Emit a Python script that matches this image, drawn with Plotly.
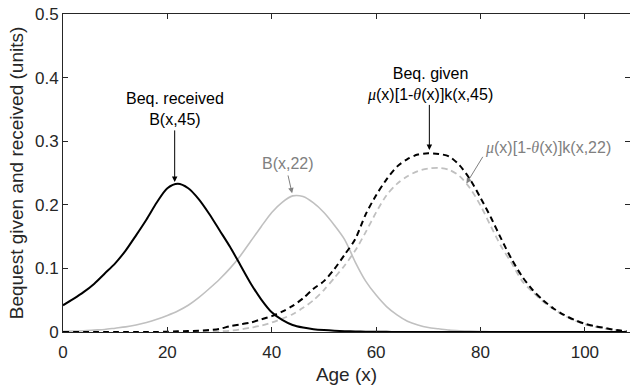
import plotly.graph_objects as go

# Age grid (years)
age = list(range(0, 110, 2))

# Bequests received at age x by a cohort aged 45: B(x,45)
b_received_45 = [0.042, 0.052, 0.063, 0.076, 0.092, 0.108, 0.128, 0.152, 0.177, 0.204,
                 0.226, 0.233, 0.226, 0.209, 0.186, 0.160, 0.134, 0.105, 0.076, 0.051,
                 0.031, 0.019, 0.011, 0.007, 0.0045, 0.003, 0.002, 0.0013, 0.0008, 0.0005,
                 0.0003, 0.0002, 0.0001, 0, 0, 0, 0, 0, 0, 0,
                 0, 0, 0, 0, 0, 0, 0, 0, 0, 0,
                 0, 0, 0, 0, 0]

# Bequests received at age x by a cohort aged 22: B(x,22)
b_received_22 = [0.001, 0.0015, 0.002, 0.003, 0.004, 0.006, 0.008, 0.011, 0.015, 0.020,
                 0.026, 0.033, 0.042, 0.054, 0.068, 0.083, 0.100, 0.120, 0.143, 0.166,
                 0.188, 0.204, 0.214, 0.213, 0.203, 0.188, 0.168, 0.145, 0.110, 0.080,
                 0.058, 0.040, 0.027, 0.017, 0.011, 0.007, 0.005, 0.003, 0.002, 0.0013,
                 0.0008, 0.0005, 0.0003, 0.0002, 0.0001, 0, 0, 0, 0, 0,
                 0, 0, 0, 0, 0]

# Bequests given: mu(x)[1-theta(x)]k(x,45)
b_given_45 = [0, 0, 0, 0, 0, 0, 0, 0, 0, 0,
              0.0005, 0.001, 0.0015, 0.002, 0.003, 0.005, 0.009, 0.012, 0.015, 0.020,
              0.025, 0.032, 0.041, 0.053, 0.068, 0.080, 0.099, 0.122, 0.146, 0.185,
              0.215, 0.240, 0.260, 0.272, 0.279, 0.281, 0.280, 0.276, 0.262, 0.240,
              0.211, 0.180, 0.146, 0.114, 0.087, 0.066, 0.050, 0.037, 0.027, 0.019,
              0.013, 0.009, 0.006, 0.003, 0.0015]

# Bequests given: mu(x)[1-theta(x)]k(x,22)
b_given_22 = [0, 0, 0, 0, 0, 0, 0, 0, 0, 0,
              0, 0, 0, 0, 0.0005, 0.001, 0.002, 0.004, 0.007, 0.010,
              0.015, 0.021, 0.028, 0.038, 0.050, 0.066, 0.085, 0.105, 0.128, 0.157,
              0.188, 0.215, 0.233, 0.245, 0.253, 0.257, 0.258, 0.255, 0.245, 0.226,
              0.199, 0.166, 0.134, 0.108, 0.080, 0.063, 0.048, 0.036, 0.026, 0.018,
              0.012, 0.008, 0.005, 0.003, 0.0015]

x_ticks = [0, 20, 40, 60, 80, 100]
y_ticks = [0, 0.1, 0.2, 0.3, 0.4, 0.5]

FONT = "Liberation Sans, Arial, Helvetica, sans-serif"
AXIS = "#262626"
LIGHT = "#c0c0c0"
MID = "#808080"

fig = go.Figure()

line_kw = dict(mode="lines", line_shape="spline", showlegend=False, hoverinfo="skip")
fig.add_trace(go.Scatter(x=age, y=b_received_22, line=dict(color=LIGHT, width=1.6, smoothing=0.8), **line_kw))
fig.add_trace(go.Scatter(x=age, y=b_given_22, line=dict(color=LIGHT, width=1.8, dash="6px,4px", smoothing=0.8), **line_kw))
fig.add_trace(go.Scatter(x=age, y=b_received_45, line=dict(color="black", width=2, smoothing=0.8), **line_kw))
fig.add_trace(go.Scatter(x=age, y=b_given_45, line=dict(color="black", width=2, dash="6px,4px", smoothing=0.8), **line_kw))
# carrier for the right-hand tick marks
fig.add_trace(go.Scatter(x=[None], y=[None], yaxis="y2", showlegend=False, hoverinfo="skip"))

mu = '<span style="font-family:Liberation Serif"><i>μ</i></span>'
th = '<span style="font-family:Liberation Serif"><i>θ</i></span>'

def label(text, x, y, color):
    fig.add_annotation(x=x, y=y, text=text, showarrow=False, xanchor="center", yanchor="middle",
                       align="center", font=dict(family=FONT, size=16, color=color))

def arrow(x, y, ax, ay, color):
    fig.add_annotation(x=x, y=y, ax=ax, ay=ay, text="", showarrow=True, arrowhead=2,
                       arrowsize=1.1, arrowwidth=1, arrowcolor=color, standoff=0)

# Bequests received
peak_r = max(b_received_45)
label("Beq. received<br>B(x,45)", 21.4, 0.350, "black")
arrow(21.4, peak_r + 0.003, 0, -53, "black")

label("B(x,22)", 43.1, 0.265, MID)
arrow(43.9, max(b_received_22) + 0.004, -4.4, -19.4, MID)

# Bequests given
peak_g = max(b_given_45)
label(f"Beq. given<br>{mu}(x)[1-{th}(x)]k(x,45)", 70.3, 0.389, "black")
arrow(70.2, peak_g + 0.005, 0, -46.7, "black")

label(f"{mu}(x)[1-{th}(x)]k(x,22)", 93.0, 0.290, MID)
arrow(77.3, 0.2333, 17.3, -28.3, MID)

fig.update_layout(
    width=630, height=385,
    margin=dict(l=63, r=0, t=14, b=53),
    paper_bgcolor="white", plot_bgcolor="white",
    font=dict(family=FONT, size=17, color=AXIS),
    xaxis=dict(range=[0, 108.65], tickvals=x_ticks, ticks="inside", ticklen=5, tickcolor=AXIS,
               ticklabelstandoff=5,
               showline=True, linecolor=AXIS, linewidth=1, mirror="ticks",
               showgrid=False, zeroline=False,
               title=dict(text="Age (x)", font=dict(size=19), standoff=6)),
    yaxis=dict(range=[0, 0.5], tickvals=y_ticks, ticks="inside", ticklen=5, tickcolor=AXIS,
               showline=True, linecolor=AXIS, linewidth=1, mirror=False,
               showgrid=False, zeroline=False,
               title=dict(text="Bequest given and received (units)", font=dict(size=19), standoff=6)),
    yaxis2=dict(range=[0, 0.5], tickvals=y_ticks, overlaying="y", side="right", ticks="inside",
                ticklen=5, tickcolor=AXIS, showticklabels=False, showline=False,
                showgrid=False, zeroline=False),
)

fig.write_html("out.html")
